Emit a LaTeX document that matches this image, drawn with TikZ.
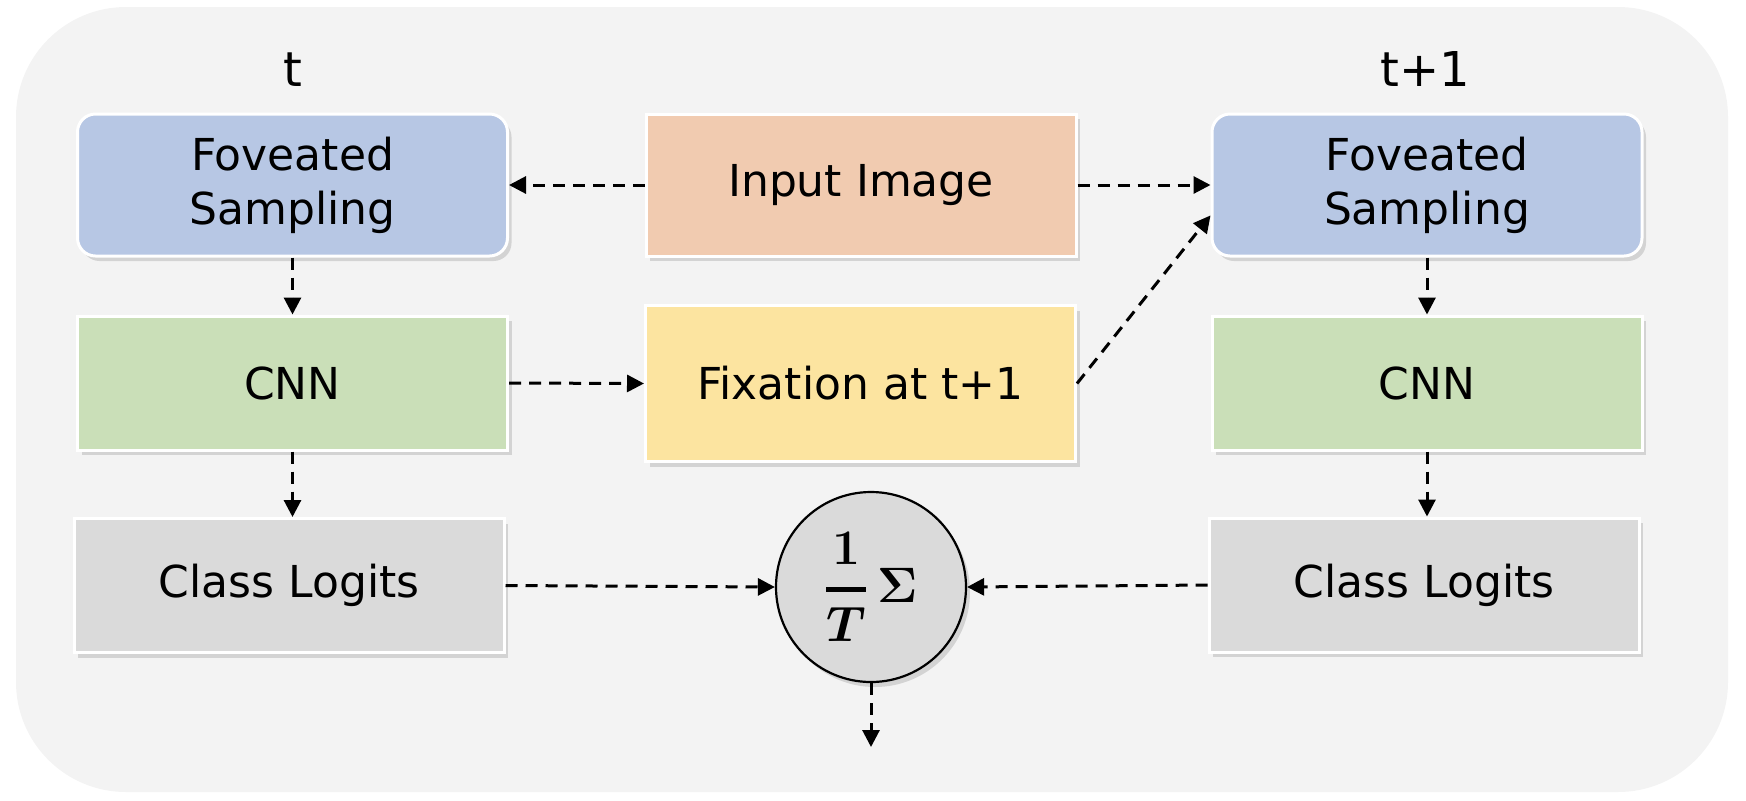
\documentclass[tikz,border=0pt]{standalone}
\usepackage{amsmath}
\usepackage[no-math]{fontspec}
\setmainfont{DejaVu Sans}
\usetikzlibrary{arrows.meta,shadows}
\definecolor{bgc}{RGB}{243,243,243}
\definecolor{fovc}{RGB}{183,199,228}
\definecolor{inpc}{RGB}{241,203,176}
\definecolor{fixc}{RGB}{252,228,160}
\definecolor{cnnc}{RGB}{202,223,184}
\definecolor{logc}{RGB}{218,218,218}
\newcommand{\avgsym}{{\mathversion{bold}$\genfrac{}{}{2.5pt}{0}{1}{T}\,\Sigma$}}
\begin{document}
\begin{tikzpicture}[x=0.5pt,y=-0.5pt,
  box/.style={draw=white, line width=1.5pt, minimum width=215pt, minimum height=67pt,
    align=center, inner sep=0pt, font=\fontsize{22}{27}\selectfont,
    drop shadow={shadow xshift=2pt, shadow yshift=-2.5pt, fill=black, opacity=0.13}},
  fov/.style={box, fill=fovc, rounded corners=9pt, minimum height=71pt},
  inp/.style={box, fill=inpc, minimum height=71pt},
  fix/.style={box, fill=fixc, minimum height=78pt},
  cnn/.style={box, fill=cnnc},
  logit/.style={box, fill=logc},
  sumnode/.style={circle, draw=black, line width=1.1pt, fill=logc, minimum size=95pt,
    inner sep=0pt, font=\fontsize{27}{32}\selectfont,
    drop shadow={shadow xshift=2pt, shadow yshift=-2.5pt, fill=black, opacity=0.13}},
  tlabel/.style={font=\fontsize{24}{28}\selectfont, inner sep=0pt},
  arr/.style={line width=1.5pt, dash pattern=on 6pt off 4pt,
    -{Triangle[length=8.5pt,width=8.5pt]}}
]
\useasboundingbox (0,0) rectangle (1746,800);
\fill[bgc, rounded corners=55pt] (16,7) rectangle (1728,792);

\node[tlabel] (tl) at (293,70) {t};
\node[tlabel] (tr) at (1425,69) {t+1};

\node[fov] (fovL) at (292.5,185) {Foveated\\Sampling};
\node[inp] (inp) at (861,185) {Input Image};
\node[fov] (fovR) at (1427,185) {Foveated\\Sampling};

\node[cnn] (cnnL) at (292.5,383) {CNN};
\node[fix] (fix) at (860.5,383.5) {Fixation at t+1};
\node[cnn] (cnnR) at (1427,383) {CNN};

\node[logit] (logL) at (289,585.5) {Class Logits};
\node[sumnode] (sum) at (871,587) {\avgsym};
\node[logit] (logR) at (1424,585) {Class Logits};
\coordinate (out) at (871,747);

\draw[arr] (inp.west) -- (fovL.east);
\draw[arr] (inp.east) -- (fovR.west);
\draw[arr] (fix.east) -- (fovR.188);
\draw[arr] (cnnL.east) -- (fix.west);
\draw[arr] (fovL.south) -- (cnnL.north);
\draw[arr] (cnnL.south) -- (logL.north -| cnnL.south);
\draw[arr] (fovR.south) -- (cnnR.north);
\draw[arr] (cnnR.south) -- (logR.north -| cnnR.south);
\draw[arr] (logL.east) -- (sum.west);
\draw[arr] (logR.west) -- (sum.east);
\draw[arr] (sum.south) -- (out);
\end{tikzpicture}
\end{document}
